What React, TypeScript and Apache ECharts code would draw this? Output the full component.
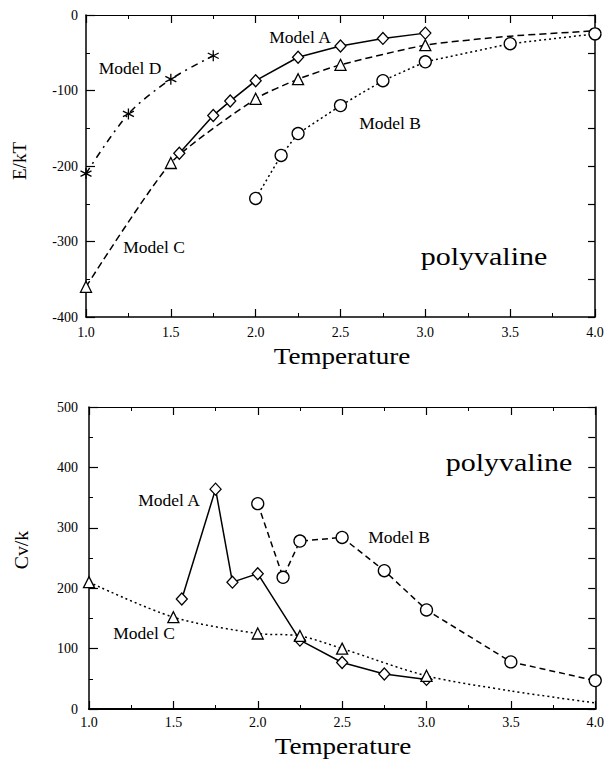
import React, { useEffect, useRef } from "react";
import * as echarts from "echarts";

const FONT = '"Liberation Serif", "Times New Roman", Times, serif';

// ---------- Data ----------
// Top panel: E/kT vs Temperature
const topA_x = [1.55, 1.75, 1.85, 2.0, 2.25, 2.5, 2.75, 3.0];
const topA_y = [-183, -133, -114, -87, -56, -41, -31, -24];
const topB_x = [2.0, 2.15, 2.25, 2.5, 2.75, 3.0, 3.5, 4.0];
const topB_y = [-243, -186, -157, -120, -87, -62, -38, -25];
const topC_x = [1.0, 1.5, 2.0, 2.25, 2.5, 3.0, 3.5, 4.0];
const topC_y = [-360, -196, -111, -85, -66, -40, -28, -21];
const topC_marked = [true, true, true, true, true, true, false, false];
const topD_x = [1.0, 1.25, 1.5, 1.75];
const topD_y = [-210, -131, -85, -54];

// Bottom panel: Cv/k vs Temperature
const botA_x = [1.55, 1.75, 1.85, 2.0, 2.25, 2.5, 2.75, 3.0];
const botA_y = [182, 364, 210, 224, 114, 77, 58, 49];
const botB_x = [2.0, 2.15, 2.25, 2.5, 2.75, 3.0, 3.5, 4.0];
const botB_y = [340, 218, 278, 284, 229, 164, 78, 47];
const botC_x = [1.0, 1.5, 2.0, 2.25, 2.5, 3.0, 3.5, 4.0];
const botC_y = [210, 152, 125, 121, 100, 55, 30, 10];
const botC_marked = [true, true, true, true, true, true, false, false];

// Axis ranges / ticks
const X_MIN = 1.0;
const X_MAX = 4.0;
const X_STEP = 0.5;
const TOP_Y_MIN = -400;
const TOP_Y_MAX = 0;
const BOT_Y_MIN = 0;
const BOT_Y_MAX = 500;
const Y_STEP = 100;

const ASTERISK =
  "path://M5,0 L5,10 M0.67,2.5 L9.33,7.5 M0.67,7.5 L9.33,2.5";

function pts(xs: number[], ys: number[], marked?: boolean[]) {
  return xs.map((x, i) => {
    const item: any = { value: [x, ys[i]] };
    if (marked && !marked[i]) item.symbol = "none";
    return item;
  });
}

function lineSeries(
  name: string,
  axis: number,
  data: any[],
  symbol: string,
  symbolSize: number | number[],
  dash: any,
  smooth: boolean | number
) {
  return {
    name,
    type: "line",
    xAxisIndex: axis,
    yAxisIndex: axis,
    data,
    symbol,
    symbolSize,
    showSymbol: true,
    smooth,
    clip: true,
    lineStyle: { color: "#000", width: 1.5, type: dash },
    itemStyle: {
      color: symbol === ASTERISK ? "none" : "#fff",
      borderColor: "#000",
      borderWidth: 1.3,
    },
    emphasis: { disabled: true },
  };
}

function xAxes(gridIndex: number, labelMargin: number, lineWidth: number) {
  const common: any = {
    type: "value",
    gridIndex,
    min: X_MIN,
    max: X_MAX,
    interval: X_STEP,
    splitLine: { show: false },
    axisLine: { show: true, onZero: false, lineStyle: { color: "#000", width: lineWidth } },
    axisTick: { show: true, inside: true, length: 8, lineStyle: { color: "#000", width: 1.2 } },
    minorTick: { show: true, splitNumber: 2, length: 4, lineStyle: { color: "#000", width: 1 } },
  };
  return [
    {
      ...common,
      position: "bottom",
      axisLabel: {
        show: true,
        margin: labelMargin,
        color: "#000",
        fontFamily: FONT,
        fontSize: 14,
        showMinLabel: true,
        showMaxLabel: true,
        formatter: (v: number) => v.toFixed(1),
      },
    },
    {
      ...common,
      position: "top",
      axisLine: { show: true, onZero: false, lineStyle: { color: "#000", width: 1.2 } },
      axisLabel: { show: false },
    },
  ];
}

function yAxes(gridIndex: number, min: number, max: number, labelMargin: number) {
  const line = { show: true, onZero: false, lineStyle: { color: "#000", width: 1.5 } };
  return [
    {
      type: "value",
      gridIndex,
      position: "left",
      min,
      max,
      interval: Y_STEP,
      splitLine: { show: false },
      axisLine: line,
      axisTick: { show: true, inside: true, length: 9, lineStyle: { color: "#000", width: 1.2 } },
      minorTick: { show: true, splitNumber: 2, length: 4, lineStyle: { color: "#000", width: 1 } },
      axisLabel: {
        show: true,
        margin: labelMargin,
        color: "#000",
        fontFamily: FONT,
        fontSize: 14,
        showMinLabel: true,
        showMaxLabel: true,
      },
    },
    {
      type: "value",
      gridIndex,
      position: "right",
      min,
      max,
      interval: Y_STEP / 2,
      splitLine: { show: false },
      axisLine: line,
      axisTick: { show: true, inside: true, length: 7, lineStyle: { color: "#000", width: 1.2 } },
      axisLabel: { show: false },
    },
  ];
}

function label(text: string, x: number, y: number, size: number, opts: any = {}) {
  return {
    type: "text",
    x,
    y,
    rotation: opts.rotation || 0,
    scaleX: opts.scaleX || 1,
    scaleY: 1,
    silent: true,
    style: {
      text,
      fill: "#000",
      font: `${size}px ${FONT}`,
      align: "center",
      verticalAlign: "middle",
      textAlign: "center",
      textVerticalAlign: "middle",
    },
  };
}

export default function App() {
  const ref = useRef<HTMLDivElement>(null);

  useEffect(() => {
    if (!ref.current) return;
    const chart = echarts.init(ref.current, null, { renderer: "svg" });

    const option: any = {
      animation: false,
      backgroundColor: "#fff",
      grid: [
        { left: 86, top: 15, width: 509, height: 302, containLabel: false },
        { left: 89, top: 407, width: 507, height: 302, containLabel: false },
      ],
      xAxis: [...xAxes(0, 8, 1.5), ...xAxes(1, 6, 2.2)],
      yAxis: [
        ...yAxes(0, TOP_Y_MIN, TOP_Y_MAX, 8),
        ...yAxes(1, BOT_Y_MIN, BOT_Y_MAX, 11),
      ],
      series: [
        // top panel (axes 0)
        lineSeries("Model A", 0, pts(topA_x, topA_y), "diamond", [11, 12], "solid", false),
        lineSeries("Model B", 0, pts(topB_x, topB_y), "circle", 12, [2, 3], false),
        lineSeries("Model C", 0, pts(topC_x, topC_y, topC_marked), "triangle", 11, [7, 4], 0.2),
        lineSeries("Model D", 0, pts(topD_x, topD_y), ASTERISK, 11, [7, 5, 2, 5], 0.3),
        // bottom panel (axes 2)
        lineSeries("Model A ", 2, pts(botA_x, botA_y), "diamond", [11, 12], "solid", false),
        lineSeries("Model B ", 2, pts(botB_x, botB_y), "circle", 12, [6, 4], false),
        lineSeries("Model C ", 2, pts(botC_x, botC_y, botC_marked), "triangle", 11, [2, 3], 0.3),
      ],
      graphic: [
        // top panel texts
        label("Model A", 300, 37, 17.5),
        label("Model D", 130, 68, 17.5),
        label("Model B", 390, 123, 17.5),
        label("Model C", 154, 247, 17.5),
        label("polyvaline", 484, 256, 25, { scaleX: 1.2 }),
        label("Temperature", 342, 356, 24, { scaleX: 1.13 }),
        label("E/kT", 19, 161, 19, { rotation: Math.PI / 2 }),
        // bottom panel texts
        label("Model A", 169, 500, 17.5),
        label("Model B", 399, 537, 17.5),
        label("Model C", 144, 633, 17.5),
        label("polyvaline", 509, 462, 25, { scaleX: 1.2 }),
        label("Temperature", 343, 746, 24, { scaleX: 1.13 }),
        label("Cv/k", 22, 550, 18, { rotation: Math.PI / 2, scaleX: 1.1 }),
      ],
    };

    chart.setOption(option);
    return () => chart.dispose();
  }, []);

  return (
    <div
      ref={ref}
      style={{ position: "absolute", left: 0, top: 0, width: 607, height: 761, background: "#fff" }}
    />
  );
}
